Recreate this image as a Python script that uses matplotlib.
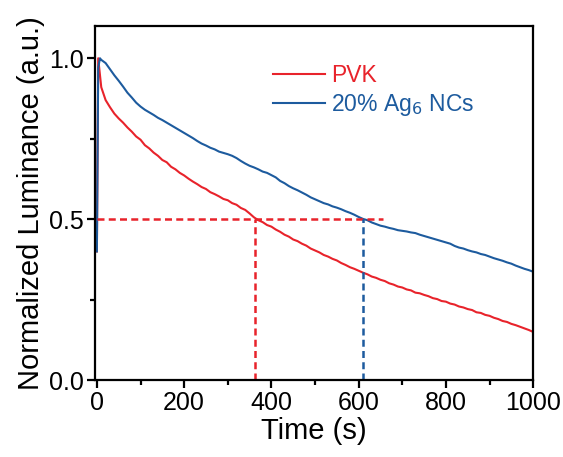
import numpy as np
from matplotlib import pyplot as plt
from matplotlib.ticker import MultipleLocator

plt.rcParams['font.family'] = ['Liberation Sans', 'DejaVu Sans']

# time axis (s)
t_pvk = [0, 3, 10, 20, 30, 40, 50, 60, 70, 80, 90, 100, 110, 120, 130, 140, 150,
         160, 170, 180, 190, 200, 210, 220, 230, 240, 250, 260, 270, 280, 290,
         300, 310, 320, 330, 340, 350, 360, 370, 380, 390, 400, 410, 420, 430,
         440, 450, 460, 470, 480, 490, 500, 510, 520, 530, 540, 550, 560, 570,
         580, 590, 600, 610, 620, 630, 640, 650, 660, 670, 680, 690, 700, 710,
         720, 730, 740, 750, 760, 770, 780, 790, 800, 810, 820, 830, 840, 850,
         860, 870, 880, 890, 900, 910, 920, 930, 940, 950, 960, 970, 980, 990, 1000]
pvk = [0.40, 1.00, 0.91, 0.87, 0.848, 0.828, 0.813, 0.800, 0.785, 0.772, 0.757,
       0.747, 0.730, 0.720, 0.707, 0.697, 0.684, 0.677, 0.663, 0.655, 0.644,
       0.636, 0.626, 0.617, 0.609, 0.600, 0.594, 0.584, 0.578, 0.571, 0.563,
       0.559, 0.550, 0.545, 0.535, 0.529, 0.518, 0.506, 0.497, 0.491, 0.482,
       0.477, 0.468, 0.461, 0.452, 0.446, 0.437, 0.432, 0.424, 0.418, 0.409,
       0.403, 0.397, 0.389, 0.384, 0.377, 0.372, 0.364, 0.358, 0.351, 0.346,
       0.340, 0.334, 0.329, 0.322, 0.318, 0.312, 0.308, 0.301, 0.297, 0.291,
       0.288, 0.282, 0.279, 0.272, 0.270, 0.265, 0.261, 0.255, 0.252, 0.246,
       0.244, 0.238, 0.235, 0.229, 0.226, 0.221, 0.218, 0.211, 0.209, 0.203,
       0.200, 0.194, 0.190, 0.184, 0.181, 0.175, 0.171, 0.166, 0.161, 0.156, 0.150]

t_ag = [0, 3, 7, 10, 20, 30, 40, 50, 60, 70, 80, 90, 100, 110, 120, 130, 140, 150,
        160, 170, 180, 190, 200, 210, 220, 230, 240, 250, 260, 270, 280, 290,
        300, 310, 320, 330, 340, 350, 360, 370, 380, 390, 400, 410, 420, 430,
        440, 450, 460, 470, 480, 490, 500, 510, 520, 530, 540, 550, 560, 570,
        580, 590, 600, 610, 620, 630, 640, 650, 660, 670, 680, 690, 700, 710,
        720, 730, 740, 750, 760, 770, 780, 790, 800, 810, 820, 830, 840, 850,
        860, 870, 880, 890, 900, 910, 920, 930, 940, 950, 960, 970, 980, 990, 1000]
ag = [0.40, 0.97, 1.00, 0.995, 0.985, 0.966, 0.947, 0.930, 0.912, 0.893, 0.878,
      0.862, 0.850, 0.840, 0.832, 0.824, 0.815, 0.808, 0.800, 0.792, 0.784,
      0.776, 0.768, 0.760, 0.752, 0.743, 0.735, 0.729, 0.722, 0.717, 0.710,
      0.706, 0.702, 0.697, 0.690, 0.681, 0.673, 0.666, 0.661, 0.655, 0.648,
      0.644, 0.637, 0.630, 0.619, 0.612, 0.603, 0.596, 0.590, 0.583, 0.576,
      0.568, 0.562, 0.556, 0.550, 0.546, 0.540, 0.536, 0.531, 0.525, 0.520,
      0.514, 0.507, 0.501, 0.497, 0.490, 0.485, 0.480, 0.477, 0.473, 0.470,
      0.466, 0.464, 0.462, 0.459, 0.457, 0.452, 0.448, 0.444, 0.440, 0.436,
      0.432, 0.428, 0.424, 0.417, 0.412, 0.409, 0.404, 0.400, 0.397, 0.392,
      0.389, 0.384, 0.379, 0.375, 0.371, 0.366, 0.362, 0.356, 0.351, 0.346,
      0.342, 0.337]

half_pvk, half_ag, half_end = 363, 610, 655

red, blue = '#e8232b', '#1d5b9e'
dash = (0, (2.8, 1.7))

fig = plt.figure(figsize=(5.63, 4.57), dpi=100)
ax = fig.add_axes([0.169, 0.168, 0.778, 0.775])

ax.plot(t_pvk, pvk, color=red, lw=1.5, label='PVK')
ax.plot(t_ag, ag, color=blue, lw=1.5, label='20% Ag$_6$ NCs')

# half-life guides
ax.plot([0, half_end], [0.5, 0.5], color=red, lw=1.8, ls=dash)
ax.plot([half_pvk, half_pvk], [0, 0.5], color=red, lw=1.8, ls=dash)
ax.plot([half_ag, half_ag], [0, 0.5], color=blue, lw=1.8, ls=dash)

ax.set_xlim(-4, 1000)
ax.set_ylim(0, 1.1)
ax.xaxis.set_major_locator(MultipleLocator(200))
ax.xaxis.set_minor_locator(MultipleLocator(100))
ax.yaxis.set_major_locator(MultipleLocator(0.5))
ax.yaxis.set_minor_locator(MultipleLocator(0.25))
ax.yaxis.set_major_formatter(plt.FuncFormatter(lambda v, p: f'{v:.1f}'))

for s in ax.spines.values():
    s.set_linewidth(1.6)
ax.tick_params(which='both', direction='out', width=1.6, labelsize=18, pad=2)
ax.tick_params(which='major', length=6)
ax.tick_params(which='minor', length=3.5)

ax.set_xlabel('Time (s)', fontsize=21, labelpad=1)
ax.set_ylabel('Normalized Luminance (a.u.)', fontsize=21, labelpad=3)

leg = ax.legend(loc='upper left', bbox_to_anchor=(0.358, 0.95), frameon=False,
                fontsize=16.5, handlelength=2.27, handletextpad=0.3,
                labelspacing=0.2, labelcolor='linecolor')

plt.savefig('out.png', dpi=100)
